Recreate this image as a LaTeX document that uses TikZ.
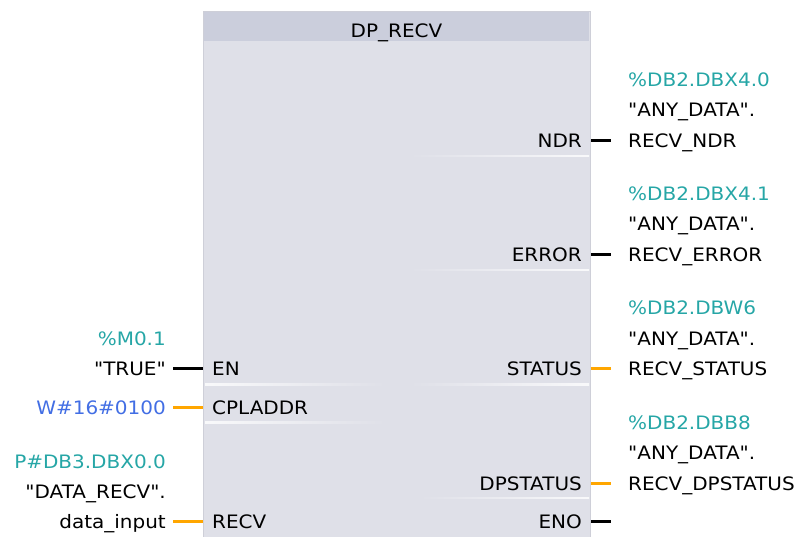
\documentclass[tikz,border=0pt]{standalone}
\usepackage{fontspec}
\setmainfont{DejaVu Sans}[FakeStretch=1.08, Ligatures=TeXOff]
\usetikzlibrary{positioning}
\definecolor{fbfill}{RGB}{223,224,232}
\definecolor{fbhead}{RGB}{203,206,220}
\definecolor{fbline}{RGB}{206,207,216}
\definecolor{addr}{RGB}{38,166,166}
\definecolor{const}{RGB}{66,110,228}
\definecolor{wordwire}{RGB}{255,166,0}

\begin{document}
\begin{tikzpicture}[x=1pt, y=-1pt,
    txt/.style={%
      inner sep=0pt,
      text height=16pt,
      text depth=2pt,
      font=\fontsize{18.5}{22}\selectfont,
    },
  ]

\tikzstyle{pinl} = [txt, anchor=west, inner xsep=9pt]
\tikzstyle{pinr} = [txt, anchor=east, inner xsep=8pt]
\tikzstyle{valr} = [txt, anchor=west]
\tikzstyle{vall} = [txt, anchor=east]
\tikzstyle{bitw} = [line width=3pt, black]
\tikzstyle{wordw} = [line width=3pt, wordwire]

    \useasboundingbox (0,0) rectangle (803,536);

    \node [draw=fbline, fill=fbfill, inner sep=0pt, anchor=north west,
      minimum width=387pt, minimum height=540pt] (fb) at (203,11) {};
    \node [fill=fbhead, inner sep=0pt, anchor=north,
      minimum width=385pt, minimum height=29pt] (head) at ([yshift=-1pt]fb.north) {};
    \node [txt] (title) at (396.5,30) {DP\_RECV};

    \shade [left color=fbfill, right color=white!80!fbfill] (410,155) rectangle (589,156.5);
    \shade [left color=fbfill, right color=white!80!fbfill] (410,269) rectangle (589,270.5);
    \shade [left color=fbfill, right color=white!80!fbfill] (410,383.5) rectangle (589,385);
    \shade [left color=fbfill, right color=white!80!fbfill] (420,497) rectangle (589,498.5);
    \shade [left color=white!80!fbfill, right color=fbfill] (205,383.5) rectangle (385,385);
    \shade [left color=white!80!fbfill, right color=fbfill] (205,421.5) rectangle (385,423);

    \node [pinr] (ndr) at (590,140) {NDR};
    \node [pinr] (error) at (590,254) {ERROR};
    \node [pinr] (status) at (590,368.5) {STATUS};
    \node [pinr] (dpstatus) at (590,483) {DPSTATUS};
    \node [pinr] (eno) at (590,521) {ENO};
    \node [pinl] (en) at (203,368.5) {EN};
    \node [pinl] (cpladdr) at (203,407) {CPLADDR};
    \node [pinl] (recv) at (203,521) {RECV};

    \node [valr] (ndrvar) at (628,140) {RECV\_NDR};
    \node [valr, above right=12pt and 0pt of ndrvar.north west] (ndrdb) {"ANY\_DATA".};
    \node [valr, above right=12pt and 0pt of ndrdb.north west, text=addr] (ndraddr) {\%DB2.DBX4.0};

    \node [valr] (errorvar) at (628,254) {RECV\_ERROR};
    \node [valr, above right=12pt and 0pt of errorvar.north west] (errordb) {"ANY\_DATA".};
    \node [valr, above right=12pt and 0pt of errordb.north west, text=addr] (erroraddr) {\%DB2.DBX4.1};

    \node [valr] (statusvar) at (628,368.5) {RECV\_STATUS};
    \node [valr, above right=12pt and 0pt of statusvar.north west] (statusdb) {"ANY\_DATA".};
    \node [valr, above right=12pt and 0pt of statusdb.north west, text=addr] (statusaddr) {\%DB2.DBW6};

    \node [valr] (dpstatusvar) at (628,483) {RECV\_DPSTATUS};
    \node [valr, above right=12pt and 0pt of dpstatusvar.north west] (dpstatusdb) {"ANY\_DATA".};
    \node [valr, above right=12pt and 0pt of dpstatusdb.north west, text=addr] (dpstatusaddr) {\%DB2.DBB8};

    \node [vall] (trueval) at (166,368.5) {"TRUE"};
    \node [vall, above left=11.5pt and 0pt of trueval.north east, text=addr] (trueaddr) {\%M0.1};
    \node [vall, text=const] (cplval) at (166,407) {W\#16\#0100};
    \node [vall] (recvvar) at (166,521) {data\_input};
    \node [vall, above left=11.5pt and 0pt of recvvar.north east] (recvdb) {"DATA\_RECV".};
    \node [vall, above left=11.5pt and 0pt of recvdb.north east, text=addr] (recvaddr) {P\#DB3.DBX0.0};

    \coordinate (enoend) at (611,521);

    \draw [bitw, shorten <=7pt] (trueval) -- (en);
    \draw [wordw, shorten <=7pt] (cplval) -- (cpladdr);
    \draw [wordw, shorten <=7pt] (recvvar) -- (recv);
    \draw [bitw, shorten <=1pt, shorten >=17pt] (ndr) -- (ndrvar);
    \draw [bitw, shorten <=1pt, shorten >=17pt] (error) -- (errorvar);
    \draw [wordw, shorten <=1pt, shorten >=17pt] (status) -- (statusvar);
    \draw [wordw, shorten <=1pt, shorten >=17pt] (dpstatus) -- (dpstatusvar);
    \draw [bitw, shorten <=1pt] (eno) -- (enoend);
\end{tikzpicture}
\end{document}
